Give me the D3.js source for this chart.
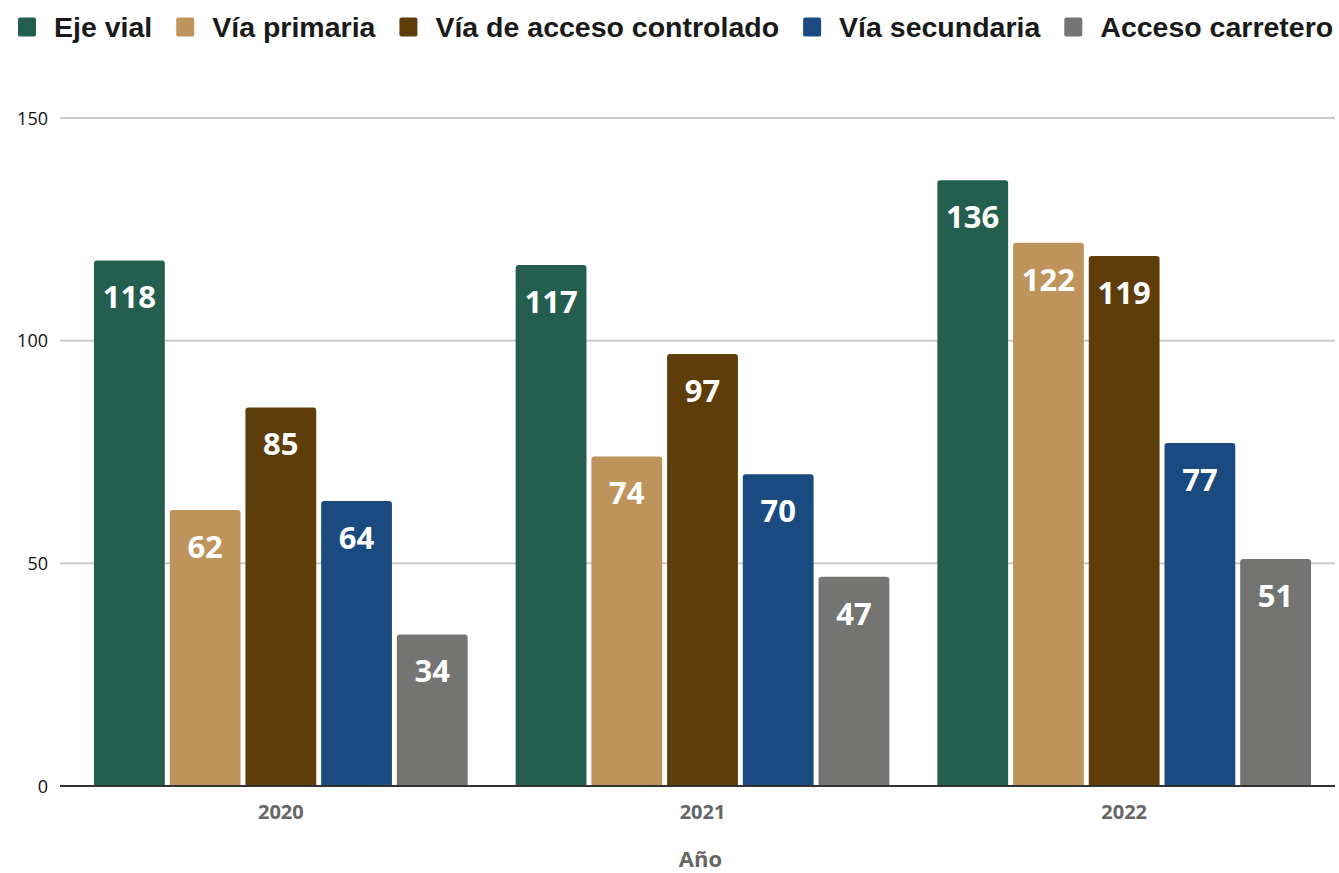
<!DOCTYPE html>
<html>
<head>
<meta charset="utf-8">
<script src="https://cdn.jsdelivr.net/npm/d3@7/dist/d3.min.js"></script>
<style>
  html, body { margin: 0; padding: 0; background: #fff; }
  svg { display: block; }
</style>
</head>
<body>
<svg id="chart" width="1339" height="873"></svg>
<script>
// Accidentes por tipo de vía y año
const years = ["2020", "2021", "2022"];
const seriesNames = ["Eje vial", "Vía primaria", "Vía de acceso controlado", "Vía secundaria", "Acceso carretero"];
const seriesColors = ["#245e4f", "#be945c", "#5f3d0b", "#1a4a80", "#747572"];
const ejeVial = [118, 117, 136];
const viaPrimaria = [62, 74, 122];
const viaAccesoControlado = [85, 97, 119];
const viaSecundaria = [64, 70, 77];
const accesoCarretero = [34, 47, 51];
const yTicks = [0, 50, 100, 150];
const axisTitle = "Año";

const seriesValues = [ejeVial, viaPrimaria, viaAccesoControlado, viaSecundaria, accesoCarretero];

const svg = d3.select("#chart");
const plot = { left: 60, right: 1335, top: 118, bottom: 786 };

const x0 = d3.scaleBand().domain(years).range([70, 1335]).paddingInner(0).paddingOuter(0);
const x1 = d3.scaleBand().domain(seriesNames).range([24, x0.bandwidth() - 24]).paddingInner(0.065).paddingOuter(0);
const y = d3.scaleLinear().domain([0, 150]).range([plot.bottom, plot.top]);

// Gridlines
svg.append("g").selectAll("line").data(yTicks.filter(t => t > 0)).join("line")
  .attr("x1", plot.left).attr("x2", plot.right)
  .attr("y1", d => y(d)).attr("y2", d => y(d))
  .attr("stroke", "#cccccc").attr("stroke-width", 2);

// Y axis labels
const yAxis = d3.axisLeft(y).tickValues(yTicks).tickSize(0).tickPadding(0);
const yg = svg.append("g").attr("transform", `translate(${plot.left - 12},0)`).call(yAxis);
yg.select(".domain").remove();
yg.selectAll("text")
  .attr("font-family", "'Open Sans', sans-serif")
  .attr("font-size", 18).attr("fill", "#111").attr("dy", "0.35em");

// Bars
const groups = svg.append("g").selectAll("g").data(years).join("g")
  .attr("transform", d => `translate(${x0(d)},0)`);

groups.each(function(year, yi) {
  const g = d3.select(this);
  seriesNames.forEach((name, si) => {
    const v = seriesValues[si][yi];
    const bx = x1(name), bw = x1.bandwidth();
    const top = y(v), h = y(0) - y(v);
    const r = 3;
    g.append("path")
      .attr("d", `M${bx},${top + h} L${bx},${top + r} Q${bx},${top} ${bx + r},${top} L${bx + bw - r},${top} Q${bx + bw},${top} ${bx + bw},${top + r} L${bx + bw},${top + h} Z`)
      .attr("fill", seriesColors[si]);
    g.append("text")
      .attr("x", bx + bw / 2).attr("y", top + 37)
      .attr("dy", "0.35em")
      .attr("text-anchor", "middle")
      .attr("font-family", "'Noto Sans', 'Open Sans', sans-serif")
      .attr("font-weight", "bold").attr("font-size", 31)
      .attr("fill", "#ffffff")
      .text(v);
  });
});

// Baseline
svg.append("line")
  .attr("x1", plot.left).attr("x2", plot.right)
  .attr("y1", y(0)).attr("y2", y(0))
  .attr("stroke", "#333333").attr("stroke-width", 2);

// X axis labels
const xAxis = d3.axisBottom(x0).tickSize(0).tickPadding(0);
const xg = svg.append("g").attr("transform", `translate(0,${y(0)})`).call(xAxis);
xg.select(".domain").remove();
xg.selectAll("text")
  .attr("y", 26).attr("dy", "0.35em")
  .attr("font-family", "'Open Sans', sans-serif")
  .attr("font-weight", "bold").attr("font-size", 20).attr("fill", "#666666");

svg.append("text")
  .attr("x", (x0.range()[0] + x0.range()[1]) / 2 - 2).attr("y", 859)
  .attr("dy", "0.35em").attr("text-anchor", "middle")
  .attr("font-family", "'Open Sans', sans-serif")
  .attr("font-weight", "bold").attr("font-size", 22).attr("fill", "#666666")
  .text(axisTitle);

// Legend
const legend = svg.append("g").attr("transform", "translate(18,27)");
let lx = 0;
seriesNames.forEach((name, i) => {
  const item = legend.append("g").attr("transform", `translate(${lx},0)`);
  item.append("rect").attr("x", 0).attr("y", -9.5).attr("width", 18).attr("height", 19)
    .attr("rx", 2).attr("fill", seriesColors[i]);
  const t = item.append("text").attr("x", 36).attr("y", 0).attr("dy", "0.36em")
    .attr("font-family", "'Liberation Sans', Arial, sans-serif")
    .attr("font-weight", "bold").attr("font-size", 28.5).attr("fill", "#1a1a1a")
    .text(name);
  const w = t.node().getComputedTextLength();
  lx += 36 + w + 24;
});
</script>
</body>
</html>
